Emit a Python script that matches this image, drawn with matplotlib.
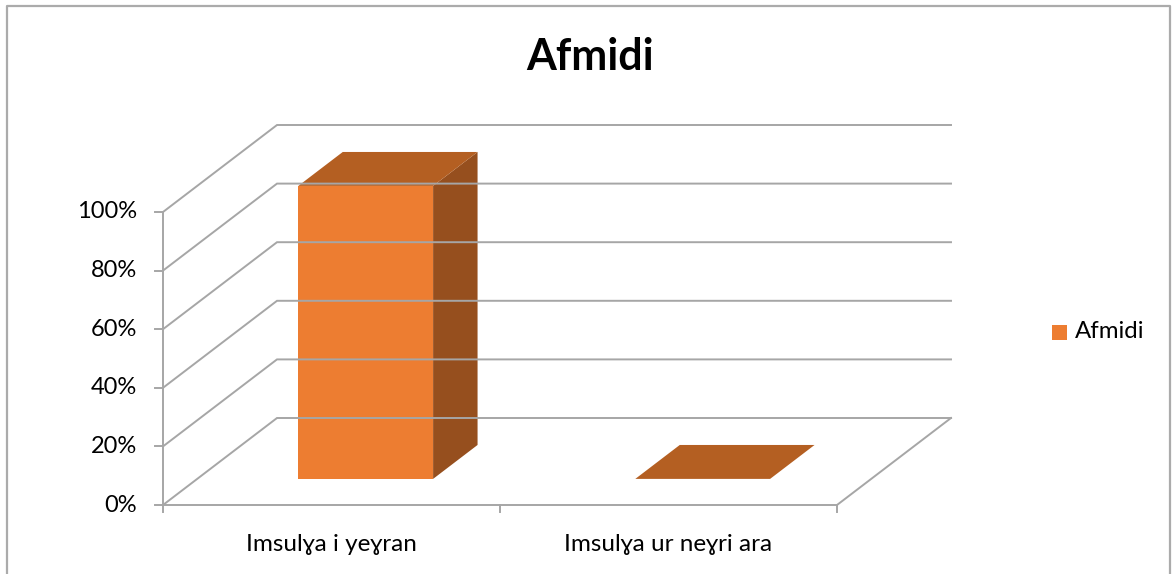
import matplotlib
matplotlib.use('Agg')
import matplotlib.pyplot as plt
from matplotlib.patches import Polygon, Rectangle
from matplotlib.lines import Line2D

# Data
categories = ['Imsulɣa i yeɣran', 'Imsulɣa ur neɣri ara']
values = [100, 0]          # percent
series_name = 'Afmidi'
yticks = [0, 20, 40, 60, 80, 100]
ytick_labels = ['0%', '20%', '40%', '60%', '80%', '100%']

FONT = ['Lato', 'DejaVu Sans']
plt.rcParams['font.family'] = FONT

W, H, DPI = 1172, 574, 100
fig = plt.figure(figsize=(W / DPI, H / DPI), dpi=DPI)
ax = fig.add_axes([0, 0, 1, 1])
ax.axis('off')

# data units: x in categories, y in percent; map to pixel layout
px_per_cat = 337.0
px_per_pct = 2.93
x0_px, y0_px = 163, 505   # origin (left axis, 0%) in pixels from top-left
ax.set_xlim(-x0_px / px_per_cat, (W - x0_px) / px_per_cat)
ax.set_ylim(-(H - y0_px) / px_per_pct, y0_px / px_per_pct)

# 3D depth projection (z from 0 front to 1 back wall)
DX = 114 / px_per_cat
DY = 87 / px_per_pct


def proj(x, y, z):
    return (x + z * DX, y + z * DY)


grid_c = '#a6a6a6'
lw = 1.4
n = len(categories)

# gridlines along side wall and back wall
for v in yticks:
    p0 = proj(0, v, 0)
    p1 = proj(0, v, 1)
    p2 = proj(n, v, 1)
    ax.add_line(Line2D([p0[0], p1[0], p2[0]], [p0[1], p1[1], p2[1]],
                       color=grid_c, lw=lw, solid_joinstyle='miter'))

# floor front + right edges, left axis
f0 = proj(0, 0, 0)
f1 = proj(n, 0, 0)
f2 = proj(n, 0, 1)
ax.add_line(Line2D([f0[0], f1[0], f2[0]], [f0[1], f1[1], f2[1]], color=grid_c, lw=lw))
ax.add_line(Line2D([0, 0], [0, 100], color=grid_c, lw=lw))

# ticks
tlen_x = 8 / px_per_cat
tlen_y = 7 / px_per_pct
for v, lab in zip(yticks, ytick_labels):
    ax.add_line(Line2D([-tlen_x, 0], [v, v], color=grid_c, lw=lw))
    ax.text(-tlen_x - 18 / px_per_cat, v, lab, ha='right', va='center',
            fontsize=17, color='#000000')
for i in range(n + 1):
    ax.add_line(Line2D([i, i], [0, -tlen_y], color=grid_c, lw=lw))
for i, c in enumerate(categories):
    ax.text(i + 0.5, -13.5, c, ha='center', va='center', fontsize=17.5,
            color='#000000')

# bars
front_c = '#ED7D31'
top_c = '#B45F22'
side_c = '#964F1E'
bw = 0.4
z0, z1 = 0.30, 0.69
for i, v in enumerate(values):
    xl, xr = i + 0.5 - bw / 2, i + 0.5 + bw / 2
    side = [proj(xr, 0, z0), proj(xr, 0, z1), proj(xr, v, z1), proj(xr, v, z0)]
    top = [proj(xl, v, z0), proj(xr, v, z0), proj(xr, v, z1), proj(xl, v, z1)]
    front = [proj(xl, 0, z0), proj(xr, 0, z0), proj(xr, v, z0), proj(xl, v, z0)]
    if v > 0:
        ax.add_patch(Polygon(side, closed=True, facecolor=side_c, edgecolor='none'))
        ax.add_patch(Polygon(front, closed=True, facecolor=front_c, edgecolor='none'))
    ax.add_patch(Polygon(top, closed=True, facecolor=top_c, edgecolor='none'))

# title
fig.text(590 / W, 1 - 57 / H, 'Afmidi', ha='center', va='center',
         fontsize=31, fontweight='bold', color='#000000')

# legend
fig.patches.append(Rectangle((1052 / W, 1 - 340 / H), 15 / W, 15 / H,
                             transform=fig.transFigure, facecolor=front_c,
                             edgecolor='none'))
fig.text(1075 / W, 1 - 332 / H, series_name, ha='left', va='center',
         fontsize=17.3, color='#000000')

# outer frame (bottom edge out of view)
fc = '#ababab'
fig.add_artist(Line2D([7 / W, 7 / W, 1170 / W, 1170 / W],
                      [0, 1 - 6 / H, 1 - 6 / H, 0],
                      transform=fig.transFigure, color=fc, lw=1.6))

fig.savefig('out.png', dpi=DPI)
